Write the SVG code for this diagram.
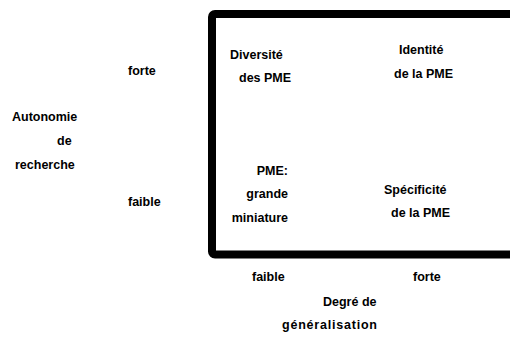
<svg xmlns="http://www.w3.org/2000/svg" width="510" height="340" viewBox="0 0 510 340">
<style>
text{font-family:"Liberation Sans",Arial,sans-serif;font-weight:bold;font-size:12.5px;fill:#000}
.frame{fill:none;stroke:#000;stroke-width:8}
</style>
<rect width="510" height="340" fill="#fff"/>
<g id="matrix">
<rect class="frame" x="212" y="14" width="320" height="240.5" rx="3"/>
</g>
<g id="q-diversite"><text x="230" y="59">Diversité</text><text x="239" y="82">des PME</text></g>
<g id="q-identite"><text x="399" y="54">Identité</text><text x="394" y="78">de la PME</text></g>
<g id="q-grande"><text x="288" y="175" text-anchor="end">PME:</text><text x="288" y="198" text-anchor="end">grande</text><text x="288" y="222" text-anchor="end">miniature</text></g>
<g id="q-specificite"><text x="384" y="194">Spécificité</text><text x="391" y="217">de la PME</text></g>
<g id="axis-y"><text x="12" y="121">Autonomie</text><text x="57" y="145">de</text><text x="15" y="169">recherche</text><text x="128" y="75">forte</text><text x="128" y="206">faible</text></g>
<g id="axis-x"><text x="252" y="281">faible</text><text x="413" y="281">forte</text><text x="323" y="306">Degré de</text><text x="282" y="329" textLength="95">généralisation</text></g>
<g id="connectors"></g>
</svg>
